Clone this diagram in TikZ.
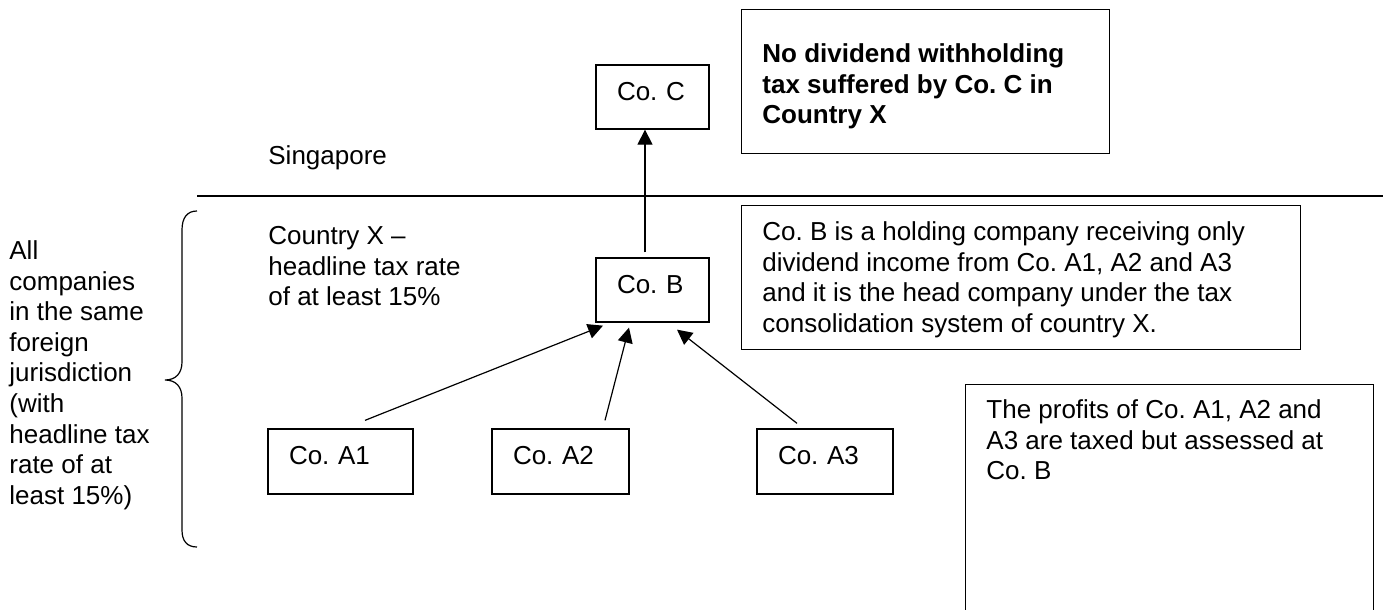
\documentclass[tikz,border=0pt]{standalone}
\usepackage{fontspec}
\setmainfont{Liberation Sans}
\usetikzlibrary{arrows.meta}
\frenchspacing
\newcommand{\fsz}{\fontsize{13pt}{15.3pt}\selectfont\frenchspacing}
\begin{document}
\begin{tikzpicture}[x=0.5pt,y=-0.5pt,
  box/.style={draw, line width=0.65pt, inner xsep=10.5pt, inner ysep=0pt, align=left, font=\fsz, text height=9.3pt, text depth=6pt, minimum height=32pt},
  bigbox/.style={draw, line width=0.65pt, inner sep=0pt, anchor=north west},
  txt/.style={inner sep=0pt, anchor=north west, align=left, font=\fsz},
  arr/.style={line width=0.6pt, -{Triangle[length=7.5pt,width=7.5pt]}}]
\clip (0,0) rectangle (1383,610);
% company boxes
\node[box, text width=35.5pt] (c) at (652.5,97) {Co. C};
\node[box, text width=35.5pt] (b) at (652.5,290) {Co. B};
\node[box, text width=51.5pt, minimum height=32.5pt] (a1) at (340.5,461.5) {Co. A1};
\node[box, text width=47.5pt, minimum height=32.5pt] (a2) at (560.5,461.5) {Co. A2};
\node[box, text width=47pt, minimum height=32.5pt] (a3) at (825,461.5) {Co. A3};
% comment boxes
\node[bigbox, minimum width=184pt, minimum height=72pt] (wht) at (741,9) {};
\node[txt, font=\fsz\bfseries] (whtt) at (762,40.6) {\strut No dividend withholding\\tax suffered by Co. C in\\Country X};
\node[bigbox, minimum width=279.5pt, minimum height=72pt] (hold) at (741,205) {};
\node[txt] (holdt) at (762,218.6) {\strut Co. B is a holding company receiving only\\dividend income from Co. A1, A2 and A3\\and it is the head company under the tax\\consolidation system of country X.};
\node[bigbox, minimum width=204pt, minimum height=130pt] (prof) at (965,384) {};
\node[txt] (proft) at (986,396.6) {\strut The profits of Co. A1, A2 and\\A3 are taxed but assessed at\\Co. B};
% labels
\node[txt] (sg) at (268,142.6) {\strut Singapore};
\node[txt] (cx) at (268,222.6) {\strut Country X --\\headline tax rate\\of at least 15\%};
\node[txt] (all) at (9,237.6) {\strut All\\companies\\in the same\\foreign\\jurisdiction\\(with\\headline tax\\rate of at\\least 15\%)};
% border line
\draw[line width=0.65pt] (197,196) -- (1383,196);
% brace
\draw[line width=0.6pt] (197,211) .. controls (187,211) and (182,218) .. (182,230) -- (182,362) .. controls (182,373) and (176,380) .. (165,380) .. controls (176,380) and (182,387) .. (182,398) -- (182,530) .. controls (182,541) and (187,547) .. (197,547);
% arrows
\draw[arr] ([xshift=-3.75pt,yshift=2.5pt]b.north) -- ([xshift=-3.75pt]c.south);
\draw[arr] ([xshift=12.25pt,yshift=4pt]a1.north) -- ([xshift=-24.75pt,yshift=-1.5pt]b.south);
\draw[arr] ([xshift=22.25pt,yshift=4pt]a2.north) -- ([xshift=-11.75pt,yshift=-2.5pt]b.south);
\draw[arr] ([xshift=-14pt,yshift=2.5pt]a3.north) -- ([xshift=12.25pt,yshift=-3.5pt]b.south);
\end{tikzpicture}
\end{document}
